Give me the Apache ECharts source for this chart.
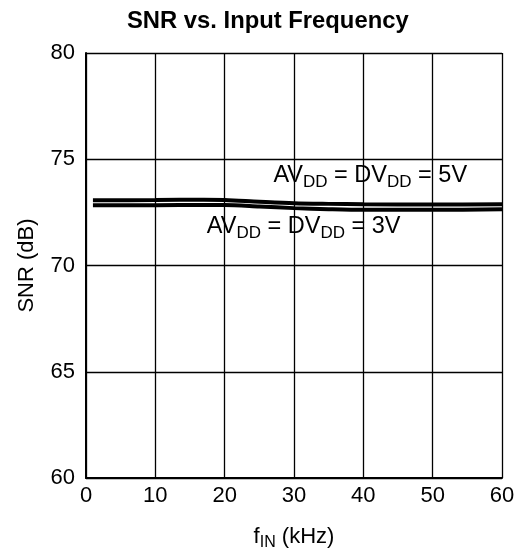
<!DOCTYPE html>
<html>
<head>
<meta charset="utf-8">
<script src="https://cdn.jsdelivr.net/npm/echarts@6/dist/echarts.min.js"></script>
<style>
  html, body { margin: 0; padding: 0; background: #fff; }
  #chart { width: 523px; height: 558px; }
</style>
</head>
<body>
<div id="chart"></div>
<script>
// Input frequency (kHz) sample points
const freqKHz = [1, 10, 17, 20, 25, 30, 35, 40, 50, 60];
// SNR (dB) for each supply condition
const snr5V = [73.07, 73.08, 73.10, 73.08, 73.00, 72.93, 72.90, 72.88, 72.87, 72.88];
const snr3V = [72.83, 72.84, 72.85, 72.85, 72.78, 72.70, 72.65, 72.62, 72.62, 72.65];
// Axis ticks
const xTicks = [0, 10, 20, 30, 40, 50, 60];
const yTicks = [60, 65, 70, 75, 80];
// Curve annotations: [frequency, SNR] anchor and supply voltage
const label5V = { at: [41.0, 74.23], volts: '5V' };
const label3V = { at: [31.4, 71.83], volts: '3V' };

const FONT = 'Liberation Sans, Arial, Helvetica, sans-serif';
const supplyRich = {
  a: { fontSize: 23.5, lineHeight: 30, color: '#000', fontFamily: FONT },
  s: { fontSize: 17, lineHeight: 15, verticalAlign: 'bottom', color: '#000', fontFamily: FONT }
};
const supplyText = v => '{a|AV}{s|DD}{a| = DV}{s|DD}{a| = ' + v + '}';

function toPairs(xs, ys) { return xs.map((x, i) => [x, ys[i]]); }

function curve(name, values, lbl) {
  return {
    name: name,
    type: 'line',
    data: toPairs(freqKHz, values),
    smooth: 0.3,
    symbol: 'none',
    lineStyle: { color: '#000', width: 4 },
    z: 5,
    markPoint: {
      symbol: 'circle',
      symbolSize: 0,
      data: [{ coord: lbl.at }],
      label: {
        show: true,
        position: 'inside',
        formatter: supplyText(lbl.volts),
        rich: supplyRich
      }
    }
  };
}

const chart = echarts.init(document.getElementById('chart'), null, { renderer: 'canvas' });
chart.setOption({
  animation: false,
  backgroundColor: '#fff',
  title: {
    text: 'SNR vs. Input Frequency',
    left: 122,
    top: 4,
    textStyle: { fontFamily: FONT, fontWeight: 'bold', fontSize: 23.8, color: '#000' }
  },
  grid: { left: 86, right: 21, top: 53, bottom: 80, show: false, outerBoundsMode: 'none' },
  xAxis: {
    type: 'value',
    min: xTicks[0],
    max: xTicks[xTicks.length - 1],
    interval: xTicks[1] - xTicks[0],
    axisLine: { show: true, lineStyle: { color: '#000', width: 2 } },
    axisTick: { show: false },
    splitLine: { show: true, lineStyle: { color: '#000', width: 1.3 } },
    axisLabel: { color: '#000', fontSize: 22, fontFamily: FONT, margin: 7 },
    name: '{a|f}{s|IN}{a| (kHz)}',
    nameLocation: 'middle',
    nameGap: 45,
    nameTextStyle: {
      rich: {
        a: { fontSize: 22, lineHeight: 28, color: '#000', fontFamily: FONT },
        s: { fontSize: 16, lineHeight: 13, verticalAlign: 'bottom', color: '#000', fontFamily: FONT }
      }
    }
  },
  yAxis: {
    type: 'value',
    min: yTicks[0],
    max: yTicks[yTicks.length - 1],
    interval: yTicks[1] - yTicks[0],
    axisLine: { show: true, lineStyle: { color: '#000', width: 2 } },
    axisTick: { show: false },
    splitLine: { show: true, lineStyle: { color: '#000', width: 1.3 } },
    axisLabel: { color: '#000', fontSize: 22, fontFamily: FONT, margin: 11 },
    name: 'SNR (dB)',
    nameLocation: 'middle',
    nameGap: 48,
    nameTextStyle: { color: '#000', fontSize: 22, fontFamily: FONT }
  },
  series: [
    curve('AVDD = DVDD = 5V', snr5V, label5V),
    curve('AVDD = DVDD = 3V', snr3V, label3V)
  ]
});
</script>
</body>
</html>
